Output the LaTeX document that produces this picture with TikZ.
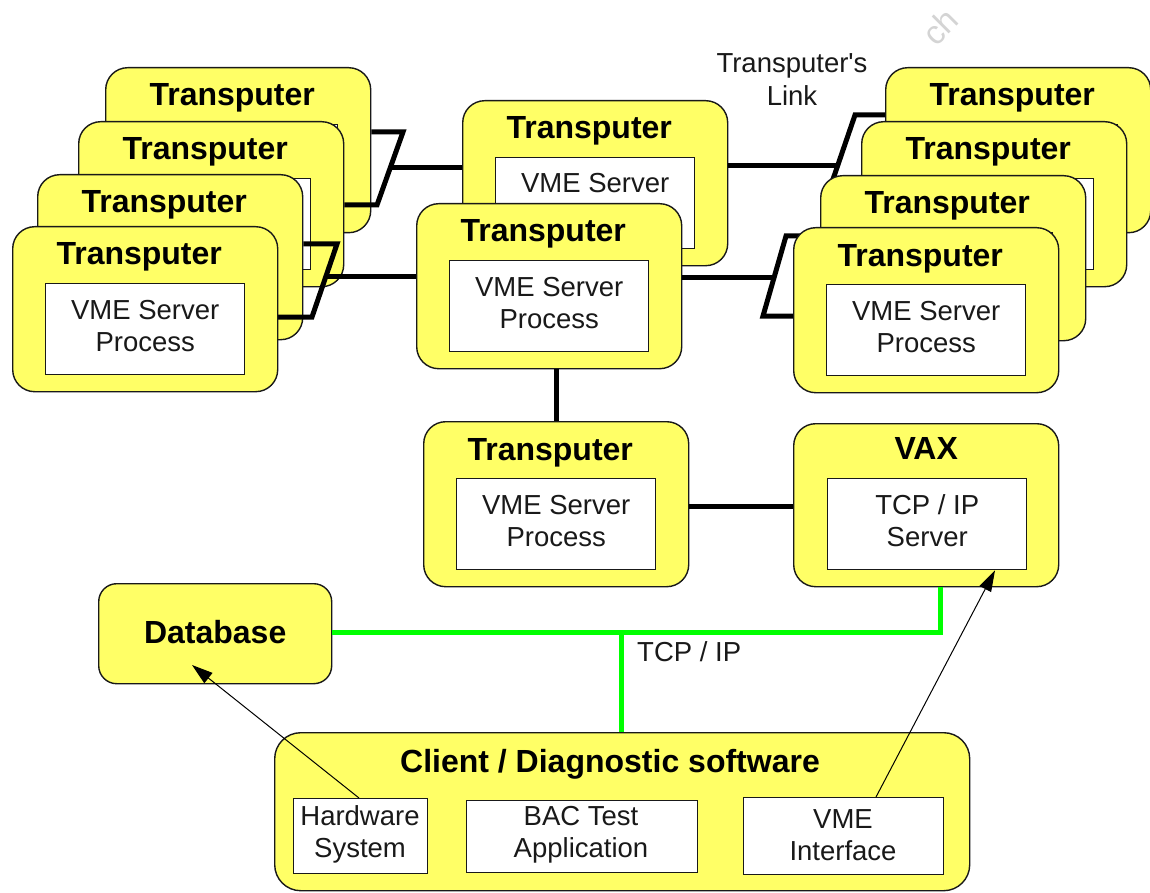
\documentclass[tikz,border=0pt]{standalone}
\usepackage{fontspec}
\setmainfont{Liberation Sans}
\newfontfamily\lsans{Liberation Sans}
\usetikzlibrary{calc,arrows.meta}
\definecolor{boxyellow}{RGB}{255,255,102}
\definecolor{netgreen}{RGB}{0,255,0}
\definecolor{wmgray}{RGB}{212,212,212}
\tikzset{
 tbox/.style={draw=black!90, line width=1.4pt, fill=boxyellow, rounded corners=22pt, inner sep=0pt, anchor=north west},
 ibox/.style={draw=black!90, line width=1.4pt, fill=white, inner sep=0pt, anchor=north west},
 ttl/.style={font=\lsans\fontsize{32}{36}\selectfont\bfseries, inner sep=0pt, anchor=base},
 itx/.style={font=\lsans\fontsize{27.5}{32}\selectfont, inner sep=0pt, anchor=base, text=black!90},
 link/.style={line width=5pt, line join=miter, black},
 tcp/.style={line width=5pt, netgreen, line join=miter},
 arr/.style={line width=1pt, black, -{Triangle[length=21pt,width=13pt]}},
}
% box, title and inner box (inner texts added separately where visible)
\newcommand\mkTransFrame[3]{%
 \node[tbox, minimum width=265pt, minimum height=165pt] (#1) at (#2,#3) {};
 \node[ttl] (#1t) at ($(#1.north)+(-6,39)$) {Transputer};
 \node[ibox, minimum width=199pt, minimum height=91pt] (#1i) at ($(#1.north west)+(33,57)$) {};
}
\newcommand\mkTransputer[3]{%
 \mkTransFrame{#1}{#2}{#3}
 \node[itx] (#1a) at ($(#1i.north)+(0,36)$) {VME Server};
 \node[itx] (#1b) at ($(#1i.north)+(0,68)$) {Process};
}
\begin{document}
\begin{tikzpicture}[x=1pt,y=-1pt]
\useasboundingbox (0,0) rectangle (1150,893);
\fill[white] (0,0) rectangle (1150,893);

% watermark fragment and link label
\node[rotate=45, text=wmgray, font=\lsans\fontsize{33}{33}\selectfont, inner sep=0pt] (wm) at (940,27) {ch};
\node[itx] (lbl1) at (792,73) {Transputer's};
\node[itx] (lbl2) at (792,106) {Link};

% bend points of the links
\coordinate (a1) at (403,132); \coordinate (a2) at (377,205);
\coordinate (am) at ($(a1)!0.493!(a2)$);
\coordinate (b1) at (337,244); \coordinate (b2) at (312,317); \coordinate (b3) at (277,317);
\coordinate (bm) at ($(b1)!0.452!(b2)$);
\coordinate (c1) at (855,115); \coordinate (c2) at (830,188);
\coordinate (cm) at ($(c1)!0.685!(c2)$);
\coordinate (d1) at (786,236); \coordinate (d2) at (763,316); \coordinate (d3) at (794,316);
\coordinate (dm) at ($(d1)!0.525!(d2)$);

% back boxes (their inner texts are hidden by the boxes in front)
\mkTransFrame{L4}{105}{67}
\mkTransFrame{R4}{885}{67}
\mkTransFrame{L3}{78}{121}
\mkTransFrame{R3}{861}{121}
\draw[link] (L4.east |- a1) -- (a1) -- (a2) -- (L3.east |- a2);
\draw[link] (R4.west |- c1) -- (c1) -- (c2) -- (R3.west |- c2);
\mkTransFrame{L2}{37}{174}
\mkTransFrame{R2}{820}{175}
\draw[link] (L2.east |- b1) -- (b1) -- (b2) -- (b3);
\draw[link] (R2.west |- d1) -- (d1) -- (d2) -- (d3);
\mkTransputer{L1}{12}{226}
\mkTransputer{R1}{793}{227}

% middle pair
\mkTransFrame{Mt}{462}{100}
\node[itx] (Mta) at ($(Mti.north)+(0,36)$) {VME Server};
\mkTransputer{Mf}{416}{203}
\draw[link] (am) -- (Mt.west |- am);
\draw[link] (Mt.east |- cm) -- (cm);
\draw[link] (bm) -- (Mf.west |- bm);
\draw[link] (Mf.east |- dm) -- (dm);

% bottom transputer and VAX
\mkTransputer{B}{423}{421}
\draw[link] (B.north |- Mf.south) -- (B.north);
\node[tbox, minimum width=265pt, minimum height=163pt] (VAX) at (793,423) {};
\node[ttl] (VAXt) at ($(VAX.north)+(0,36)$) {VAX};
\node[ibox, minimum width=199pt, minimum height=91pt] (VAXi) at (827,478) {};
\node[itx] (VAXa) at ($(VAXi.north)+(0,36)$) {TCP / IP};
\node[itx] (VAXb) at ($(VAXi.north)+(0,68)$) {Server};
\draw[link] (B.east |- 0,506) -- (VAX.west |- 0,506);

% database
\node[tbox, rounded corners=18pt, minimum width=233pt, minimum height=100pt] (DB) at (98,583) {};
\node[ttl] (DBt) at ($(DB.center)+(0,10)$) {Database};

% client
\node[tbox, rounded corners=26pt, minimum width=695pt, minimum height=158pt] (CL) at (274,732) {};
\node[ttl] (CLt) at (610,772) {Client / Diagnostic software};
\node[ibox, minimum width=134pt, minimum height=75pt] (HW) at (293,798) {};
\node[itx] (HWa) at (360,825) {Hardware};
\node[itx] (HWb) at (360,857) {System};
\node[ibox, minimum width=231pt, minimum height=72pt] (BAC) at (466,800) {};
\node[itx] (BACa) at (581,825) {BAC Test};
\node[itx] (BACb) at (581,857) {Application};
\node[ibox, minimum width=200pt, minimum height=77pt] (VI) at (743,797) {};
\node[itx] (VIa) at (843,828) {VME};
\node[itx] (VIb) at (843,860) {Interface};

% TCP/IP network
\coordinate (g1) at (940,632);
\coordinate (g2) at (621,632);
\draw[tcp] (DB.east |- g1) -- (g1) -- (VAX.south -| g1);
\draw[tcp] (g2) -- (CL.north -| g2);
\node[itx, anchor=base west] (tcplbl) at (637,661) {TCP / IP};

% arrows
\coordinate (dbtip) at (192,665);
\draw[arr] (HW.north -| 359,0) -- (dbtip);
\draw[arr] (VI.north -| 876,0) -- (VAXi.south -| 995,0);
\end{tikzpicture}
\end{document}
